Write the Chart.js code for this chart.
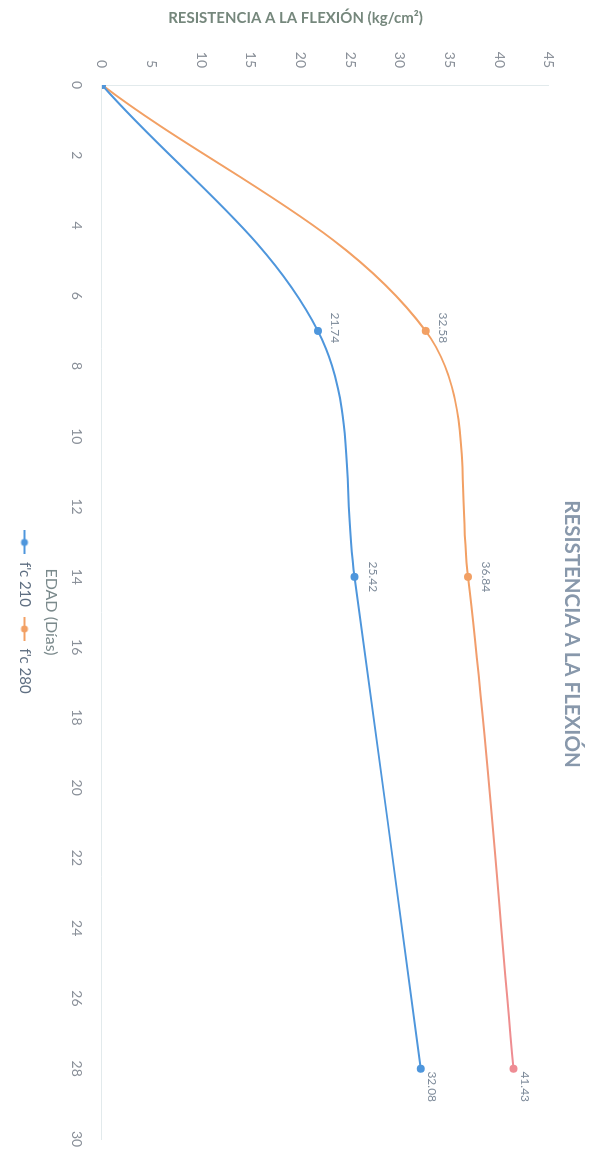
<!DOCTYPE html>
<html lang="es">
<head>
<meta charset="utf-8">
<title>Resistencia a la flexión</title>
<script src="https://cdn.jsdelivr.net/npm/chart.js@4.4.1/dist/chart.umd.min.js"></script>
<style>
  html, body { margin:0; padding:0; background:#fff; overflow:hidden; }
  /* the chart is drawn landscape, then turned 90deg clockwise like the scan */
  #giro { position:absolute; left:0; top:0; width:1158px; height:596px;
          transform-origin:0 0; transform:translateX(596px) rotate(90deg); }
</style>
</head>
<body>
<div id="giro"><canvas id="grafico" width="1158" height="596"></canvas></div>
<script>
// datos
const dias = [0, 7, 14, 28];
const fc210 = [0, 21.74, 25.42, 32.08];
const fc280 = [0, 32.58, 36.84, 41.43];
const series = ["f'c 210", "f'c 280"];

const FUENTE = 'Lato, "Open Sans", sans-serif';
const AZUL = '#4e96dc';
const NARANJA = '#f2a064';
const ROSA = '#ee8c94';

// legend icon: short line with a dot
function icono(color) {
  const c = document.createElement('canvas');
  c.width = 24; c.height = 10;
  const g = c.getContext('2d');
  g.strokeStyle = color; g.lineWidth = 2;
  g.beginPath(); g.moveTo(0, 5); g.lineTo(24, 5); g.stroke();
  g.fillStyle = color;
  g.beginPath(); g.arc(12, 5, 3.5, 0, Math.PI * 2); g.fill();
  return c;
}
const iconos = [icono(AZUL), icono(NARANJA)];

// label offsets per point (px, landscape frame)
const desplaz = [null, [-3, -17], [0, -18], [18, -11]];

const textos = {
  id: 'textos',
  afterDatasetsDraw(chart) {
    const {ctx} = chart;
    ctx.save();
    ctx.font = '12px ' + FUENTE;
    ctx.fillStyle = '#7f8c9b';
    ctx.textAlign = 'center';
    ctx.textBaseline = 'middle';
    chart.data.datasets.forEach((ds, i) => {
      chart.getDatasetMeta(i).data.forEach((pt, j) => {
        const d = desplaz[j];
        if (!d) return;
        ctx.fillText(ds.data[j].y.toFixed(2), pt.x + d[0], pt.y + d[1]);
      });
    });
    ctx.restore();
  },
  afterDraw(chart) {
    const {ctx, chartArea} = chart;
    ctx.save();
    ctx.textAlign = 'center';
    ctx.textBaseline = 'middle';
    // chart title
    ctx.font = 'bold 20.5px ' + FUENTE;
    ctx.fillStyle = '#8898ab';
    ctx.fillText('RESISTENCIA A LA FLEXIÓN', (chartArea.left + chartArea.right) / 2 + 22, 24);
    // value axis title
    ctx.translate(18, (chartArea.top + chartArea.bottom) / 2 + 30);
    ctx.rotate(-Math.PI / 2);
    ctx.font = 'bold 15px ' + FUENTE;
    ctx.fillStyle = '#75877c';
    ctx.fillText('RESISTENCIA A LA FLEXIÓN (kg/cm²)', 0, 0);
    ctx.restore();
  }
};

function gradRosa(chart) {
  const xs = chart.scales.x;
  const g = chart.ctx.createLinearGradient(xs.getPixelForValue(14), 0, xs.getPixelForValue(28), 0);
  g.addColorStop(0, NARANJA);
  g.addColorStop(1, ROSA);
  return g;
}

const ctx = document.getElementById('grafico').getContext('2d');
new Chart(ctx, {
  type: 'line',
  data: {
    datasets: [
      {
        label: series[0],
        data: dias.map((d, i) => ({x: d, y: fc210[i]})),
        borderColor: AZUL,
        backgroundColor: AZUL,
        borderWidth: 2,
        pointRadius: 4,
        pointBorderWidth: 0,
        tension: 0.35
      },
      {
        label: series[1],
        data: dias.map((d, i) => ({x: d, y: fc280[i]})),
        borderColor: NARANJA,
        backgroundColor: [NARANJA, NARANJA, NARANJA, ROSA],
        borderWidth: 2,
        pointRadius: 4,
        pointBorderWidth: 0,
        tension: 0.35,
        segment: { borderColor: c => c.p1DataIndex === 3 ? gradRosa(c.chart) : undefined }
      }
    ]
  },
  options: {
    responsive: false,
    animation: false,
    layout: { padding: { top: 47, right: 19, bottom: 7, left: 0 } },
    plugins: {
      tooltip: { enabled: false },
      title: { display: false },
      legend: {
        position: 'bottom',
        fullSize: false,
        labels: {
          usePointStyle: true,
          pointStyleWidth: 24,
          padding: 10,
          color: '#5f6f82',
          font: { family: FUENTE, size: 15 },
          generateLabels(chart) {
            const items = Chart.defaults.plugins.legend.labels.generateLabels(chart);
            return items.map((it, i) => ({...it, pointStyle: iconos[i]}));
          }
        }
      }
    },
    scales: {
      x: {
        type: 'linear',
        min: 0, max: 30,
        ticks: { stepSize: 2, padding: 17, color: '#8a9099', font: { family: FUENTE, size: 14 } },
        grid: { display: false, drawTicks: false },
        border: { color: '#e2eaec' },
        title: { display: true, text: 'EDAD (Días)', color: '#7b8a8c',
                 font: { family: FUENTE, size: 16 }, padding: { top: 4, bottom: 0 } },
        afterFit(s) { s.height = 60; s.paddingRight = 0; }
      },
      y: {
        min: 0, max: 45,
        ticks: { stepSize: 5, padding: 17, color: '#8a9099', font: { family: FUENTE, size: 14 } },
        grid: { display: false, drawTicks: false },
        border: { color: '#e2eaec' },
        afterFit(s) { s.width = 85; }
      }
    }
  },
  plugins: [textos]
});
</script>
</body>
</html>
